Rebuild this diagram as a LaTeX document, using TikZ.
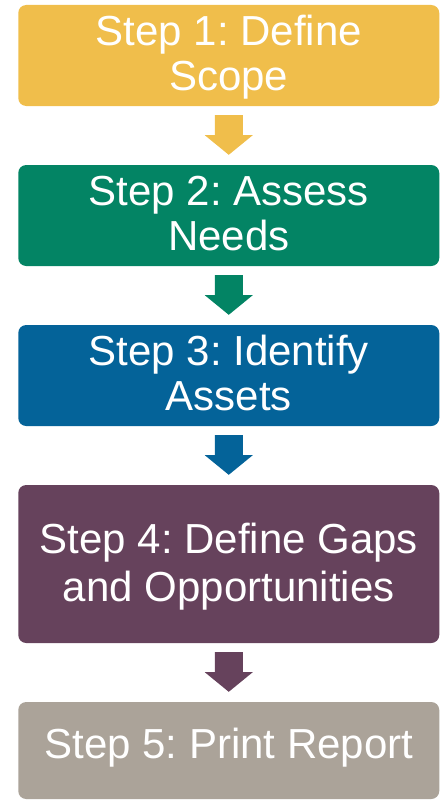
\documentclass[tikz,border=0pt]{standalone}
\usepackage{fontspec}
\setmainfont{Liberation Sans}
\usetikzlibrary{calc}
\frenchspacing
\definecolor{cyellow}{HTML}{F0BE4B}
\definecolor{cgreen}{HTML}{038464}
\definecolor{cblue}{HTML}{046399}
\definecolor{cpurple}{HTML}{66425C}
\definecolor{cgrey}{HTML}{ABA399}
\tikzset{
  stepbox/.style={rectangle, rounded corners=8pt, draw=none, text=white,
    minimum width=421pt, inner sep=0pt, align=center, text depth=5pt,
    font=\fontsize{42pt}{45pt}\selectfont},
}
\newcommand{\blockarrow}[3]{%
  \fill[#3] ($(#1.south)+(-14,9)$) -- ($(#1.south)+(14,9)$) -- ($(#1.south)+(14,29)$)
    -- ($(#1.south)+(24,29)$) -- ($(#2.north)+(0,-10)$) -- ($(#1.south)+(-24,29)$)
    -- ($(#1.south)+(-14,29)$) -- cycle;}
\begin{document}
\begin{tikzpicture}[x=1pt,y=-1pt]
\useasboundingbox (0,0) rectangle (442,800);
\node[stepbox, fill=cyellow, minimum height=101pt] (s1) at (228.75,55.5) {Step 1: Define\\Scope};
\node[stepbox, fill=cgreen, minimum height=101pt] (s2) at (228.75,215.5) {Step 2: Assess\\Needs};
\node[stepbox, fill=cblue, minimum height=101pt] (s3) at (228.75,375.5) {Step 3: Identify\\Assets};
\node[stepbox, fill=cpurple, minimum height=158pt, text depth=3pt, font=\fontsize{42pt}{48pt}\selectfont] (s4) at (228.75,564) {Step 4: Define Gaps\\and Opportunities};
\node[stepbox, fill=cgrey, minimum height=97pt, text depth=14pt] (s5) at (228.75,750.5) {Step 5: Print Report};
\blockarrow{s1}{s2}{cyellow}
\blockarrow{s2}{s3}{cgreen}
\blockarrow{s3}{s4}{cblue}
\blockarrow{s4}{s5}{cpurple}
\end{tikzpicture}
\end{document}
